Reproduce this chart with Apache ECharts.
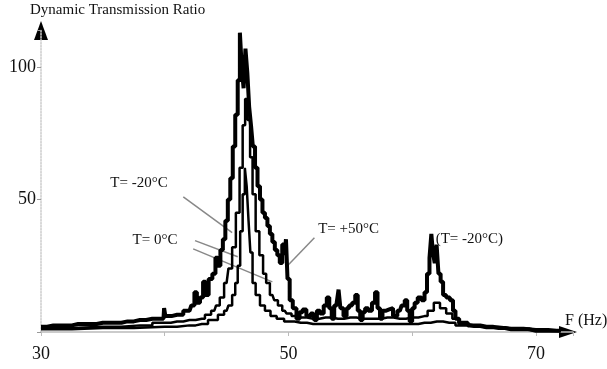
<!DOCTYPE html>
<html>
<head>
<meta charset="utf-8">
<script src="https://cdn.jsdelivr.net/npm/echarts@6/dist/echarts.min.js"></script>
<style>
  html, body { margin: 0; padding: 0; background: #fff; }
  #chart { width: 607px; height: 369px; }
</style>
</head>
<body>
<div id="chart"></div>
<script>
// frequency (Hz) / transmission ratio pairs
const curveMinus20 = [
  [30, 2], [31, 2.5], [32, 2.5], [33, 3], [34, 3], [35, 3.5], [36, 3.5], [37, 4], [38, 4.5], [39, 5],
  [39.9, 5], [40, 9], [40.1, 6], [41, 6.5], [42, 8], [42.3, 10], [42.5, 15], [42.7, 11], [43, 13],
  [43.2, 19], [43.4, 14], [43.7, 20], [44, 22], [44.2, 28], [44.4, 25], [44.6, 31], [44.8, 35],
  [45, 42], [45.2, 50], [45.4, 58], [45.6, 70], [45.8, 82], [46, 95], [46.15, 113], [46.3, 100],
  [46.45, 92], [46.6, 107], [46.75, 98], [46.9, 85], [47.05, 78], [47.2, 70], [47.4, 62], [47.6, 55],
  [47.8, 50], [48, 45], [48.2, 43], [48.4, 40], [48.6, 37], [48.8, 34], [49, 31], [49.2, 29],
  [49.4, 26], [49.6, 33], [49.75, 29], [49.85, 35], [50, 20], [50.2, 12], [50.5, 9], [50.8, 5],
  [51, 7.5], [51.3, 8.5], [51.6, 6], [52, 7], [52.2, 4.5], [52.4, 8], [52.7, 7], [53, 10], [53.2, 13],
  [53.4, 9], [53.6, 5], [53.8, 10], [54, 11], [54.1, 16], [54.3, 9], [54.6, 6], [54.8, 9], [55, 10],
  [55.3, 11], [55.5, 14], [55.7, 8], [55.9, 4.5], [56.1, 7.5], [56.3, 9], [56.6, 8], [56.9, 11],
  [57.1, 15], [57.3, 9], [57.5, 5], [57.7, 8], [58, 8.5], [58.3, 9], [58.6, 6], [59, 8], [59.3, 10],
  [59.5, 12], [59.7, 8], [59.9, 4], [60.1, 9], [60.3, 11], [60.6, 13], [60.9, 12], [61.1, 15],
  [61.3, 22], [61.5, 28], [61.6, 37], [61.75, 30], [61.9, 26], [62.05, 33], [62.2, 22], [62.4, 19],
  [62.6, 14], [62.9, 13], [63.2, 12], [63.4, 8], [63.6, 5], [64, 3.5], [65, 2.5], [66, 2], [67, 1.5],
  [68, 1], [69, 1], [70, 0.5], [71, 0.5], [72, 0.5]
];
const curveZero = [
  [30, 1.5], [35, 2], [38, 2.5], [40, 3.5], [41, 4], [42, 4.5], [43, 5], [43.5, 6.5], [44, 8],
  [44.3, 10], [44.6, 13], [45, 18.5], [45.3, 24], [45.6, 32], [45.9, 45], [46.2, 62], [46.4, 78],
  [46.6, 88], [46.8, 80], [47, 66], [47.2, 52], [47.5, 38], [47.8, 29], [48.1, 22], [48.3, 18.5],
  [48.7, 14], [49, 12], [49.3, 10], [49.7, 8], [50, 7], [50.5, 6], [51, 5.5], [52, 5], [53, 5.5],
  [54, 5], [55, 5.5], [56, 5], [57, 5], [58, 5.5], [59, 5], [60, 5.5], [61, 6], [61.5, 8], [62, 11],
  [62.5, 9], [63, 7], [63.5, 5], [64, 3], [65, 2.5], [66, 2], [68, 1.5], [70, 1], [72, 0.5]
];
const curvePlus50 = [
  [30, 1], [35, 1.5], [40, 2], [42, 2.5], [43, 3], [44, 4.5], [44.6, 6.5], [45, 8], [45.3, 10],
  [45.6, 14], [45.8, 18.5], [46, 25], [46.2, 38], [46.4, 52], [46.55, 62], [46.7, 55], [46.85, 42],
  [47, 30], [47.2, 18.5], [47.5, 14], [47.9, 10], [48.3, 8], [48.8, 6], [49.3, 5], [50, 4], [51, 3.5],
  [52, 3], [55, 3], [58, 3], [60, 3], [61, 3.5], [62, 4], [63, 3.5], [64, 2.5], [65, 2], [66, 1.5],
  [68, 1], [70, 0.5], [72, 0.3]
];
const xTicks = [30, 50, 70];
const yTicks = [50, 100];

// annotation anchors in data coordinates
const notes = [
  { text: 'T= -20°C', at: [35.6, 56.4], from: [[41.5, 51]], to: [[45.45, 37.5]] },
  { text: 'T= 0°C', at: [37.4, 34.8], from: [[42.45, 34.5], [42.3, 31.4]], to: [[45.9, 28.4], [48.7, 18.9]] },
  { text: 'T= +50°C', at: [52.4, 39], from: [[52.1, 35.6]], to: [[50.0, 25.4]] },
  { text: '(T= -20°C)', at: [61.9, 35], from: [], to: [] }
];

const serif = "'Liberation Serif', 'DejaVu Serif', serif";
const chart = echarts.init(document.getElementById('chart'));

const lineSeries = (name, data, width) => ({
  name,
  type: 'line',
  data,
  step: 'middle',
  symbol: 'none',
  animation: false,
  lineStyle: { color: '#000', width }
});

chart.setOption({
  animation: false,
  grid: { left: 41, right: 34, top: 30, bottom: 37 },
  xAxis: {
    type: 'value',
    min: 30,
    max: 73,
    interval: 10,
    splitLine: { show: false },
    axisLine: { lineStyle: { color: '#bbb', width: 1.5 } },
    axisTick: { length: 4, lineStyle: { color: '#bbb' } },
    axisLabel: {
      color: '#111',
      fontFamily: serif,
      fontSize: 18,
      margin: 13,
      formatter: v => (xTicks.includes(v) ? String(v) : '')
    }
  },
  yAxis: {
    type: 'value',
    min: 0,
    max: 114,
    interval: 50,
    splitLine: { show: false },
    axisLine: { show: true, lineStyle: { color: '#ccc', width: 1.5, type: 'dotted' } },
    axisTick: { show: true, length: 4, lineStyle: { color: '#999' } },
    axisLabel: {
      color: '#111',
      fontFamily: serif,
      fontSize: 18,
      margin: 5,
      formatter: v => (yTicks.includes(v) ? String(v) : '')
    }
  },
  series: [
    lineSeries('T= +50°C', curvePlus50, 2.5),
    lineSeries('T= 0°C', curveZero, 2.5),
    lineSeries('T= -20°C', curveMinus20, 4)
  ]
});

// axis arrows, axis titles and curve annotations
const px = p => chart.convertToPixel({ gridIndex: 0 }, p);
const origin = px([30, 0]);
const xEnd = px([73, 0]);
const yEnd = px([30, 114]);
const g = [];
g.push({
  type: 'polygon',
  shape: { points: [[xEnd[0] - 14, origin[1] - 6], [xEnd[0] + 4, origin[1]], [xEnd[0] - 14, origin[1] + 6]] },
  style: { fill: '#000' }
});
g.push({
  type: 'polygon',
  shape: { points: [[origin[0] - 7, yEnd[1] + 10], [origin[0], yEnd[1] - 9], [origin[0] + 7, yEnd[1] + 10]] },
  style: { fill: '#000' }
});
g.push({
  type: 'text', left: 30, top: 3,
  style: { text: 'Dynamic Transmission Ratio', font: '15px ' + serif, fill: '#111' }
});
g.push({
  type: 'text', x: xEnd[0] - 8, y: origin[1] - 19,
  style: { text: 'F (Hz)', font: '16px ' + serif, fill: '#111' }
});
notes.forEach(n => {
  const p = px(n.at);
  g.push({
    type: 'text', x: p[0], y: p[1],
    style: { text: n.text, font: '15px ' + serif, fill: '#111', verticalAlign: 'middle' }
  });
  n.from.forEach((f, i) => {
    const a = px(f);
    const b = px(n.to[i]);
    g.push({
      type: 'line',
      shape: { x1: a[0], y1: a[1], x2: b[0], y2: b[1] },
      style: { stroke: '#888', lineWidth: 1.5 }
    });
  });
});
chart.setOption({ graphic: g });
</script>
</body>
</html>
